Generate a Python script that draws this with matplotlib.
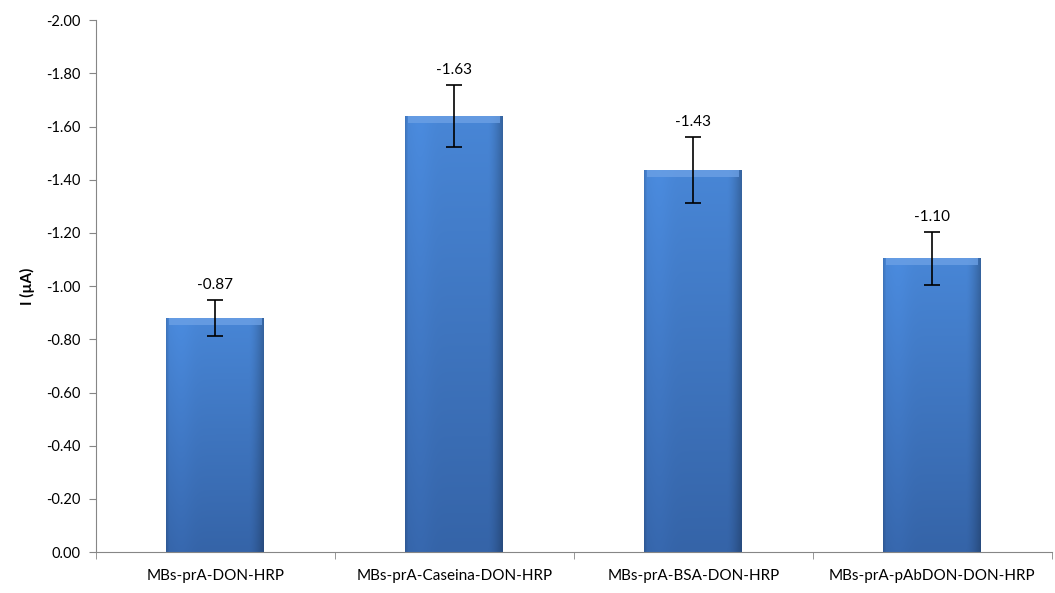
"""
Bar chart of current for the MB assay variants
"""
import numpy as np
import matplotlib.pyplot as plt
from matplotlib.colors import to_rgb

categories = ['MBs-prA-DON-HRP', 'MBs-prA-Caseina-DON-HRP',
              'MBs-prA-BSA-DON-HRP', 'MBs-prA-pAbDON-DON-HRP']
currents = [-0.88, -1.64, -1.435, -1.105]
errors = [0.068, 0.117, 0.124, 0.10]
value_labels = ['-0.87', '-1.63', '-1.43', '-1.10']
yticks = [0.0, -0.2, -0.4, -0.6, -0.8, -1.0, -1.2, -1.4, -1.6, -1.8, -2.0]

plt.rcParams['font.family'] = ['Lato', 'DejaVu Sans']

fig = plt.figure(figsize=(10.55, 5.93), dpi=100)
ax = fig.add_axes([0.091, 0.069, 0.906, 0.897])

x = np.arange(len(categories))
bars = ax.bar(x, currents, width=0.41, color='#3B76C4', zorder=2)


def bar_image(ny=200, nx=100):
    # vertical: lighter at top, darker at the base
    top = np.array(to_rgb('#4886D6'))
    bot = np.array(to_rgb('#3564A8'))
    t = np.linspace(0, 1, ny)[:, None, None]
    img = top * (1 - t) + bot * t
    img = np.repeat(img, nx, axis=1)
    # horizontal: dark left rim, slight highlight, dark right edge
    u = np.linspace(0, 1, nx)
    f = np.ones(nx)
    f -= 0.12 * np.clip(1 - u / 0.03, 0, 1)
    f += 0.04 * np.exp(-((u - 0.15) / 0.12) ** 2)
    f -= 0.25 * np.clip((u - 0.85) / 0.15, 0, 1) ** 1.5
    img = img * f[None, :, None]
    return np.clip(img, 0, 1)


img = bar_image()
for b in bars:
    x0, w = b.get_x(), b.get_width()
    h = b.get_height()
    # image row 0 sits at the bar top (y = h)
    im = ax.imshow(img, aspect='auto', zorder=2.1,
                   extent=[x0, x0 + w, 0, h], origin='upper',
                   interpolation='bilinear')
    im.set_clip_path(b)
    # bevel strip along the top
    ax.fill_between([x0 + w * 0.03, x0 + w * 0.97], h, h + 0.025,
                    color='#6EA2E6', alpha=0.75, zorder=2.2, lw=0)

ax.errorbar(x, currents, yerr=errors, fmt='none', ecolor='black',
            elinewidth=1.2, capsize=6, capthick=1.2, zorder=3)

for xi, v, e, lab in zip(x, currents, errors, value_labels):
    ax.text(xi, v - e - 0.03, lab, ha='center', va='bottom', fontsize=11)

ax.set_xlim(-0.5, len(categories) - 0.5)
ax.set_ylim(0, -2.0)
ax.set_yticks(yticks)
ax.set_yticklabels(['%.2f' % t if t != 0 else '0.00' for t in yticks], fontsize=10.5)
ax.set_xticks(x)
ax.set_xticklabels(categories, fontsize=11)
ax.set_xticks(np.arange(-0.5, len(categories)), minor=True)
ax.tick_params(axis='x', which='major', length=0, pad=12)
ax.tick_params(axis='x', which='minor', length=5, color='#868686', direction='out')
ax.tick_params(axis='y', length=5, color='#868686', direction='out', pad=6)

ax.set_ylabel('I (µA)', fontsize=11, fontweight='bold', labelpad=8)

for s in ['top', 'right']:
    ax.spines[s].set_visible(False)
for s in ['left', 'bottom']:
    ax.spines[s].set_color('#868686')

plt.savefig('out.png', dpi=100)
plt.close()
